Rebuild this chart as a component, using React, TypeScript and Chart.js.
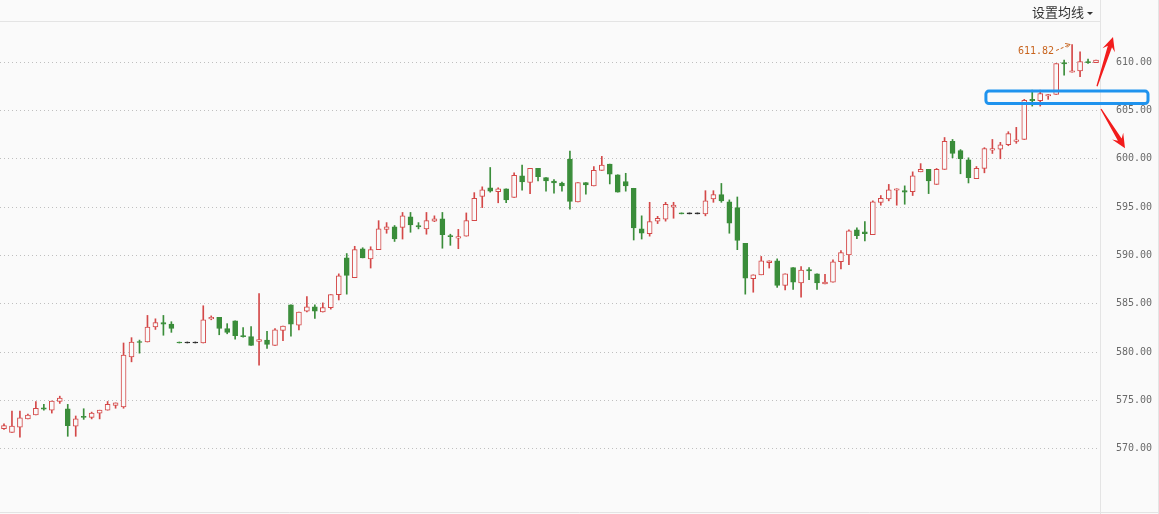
import React, { useEffect, useRef } from "react";
import { Chart, registerables } from "chart.js";

Chart.register(...registerables);

// OHLC values (138 sessions)
const open = [
  572.1, 571.7, 572.25, 573.1, 573.5, 574.25, 574.0, 574.9, 574.15, 572.35,
  573.3, 573.25, 573.7, 574.0, 574.5, 574.35, 579.5, 581.1, 581.05, 582.6,
  583.05, 582.9, 580.95, 580.95, 580.95, 580.95, 583.45, 583.6, 582.45, 583.25,
  581.7, 581.6, 581.1, 581.25, 580.7, 582.25, 584.9, 582.8, 584.25, 584.7,
  584.15, 584.6, 585.95, 589.75, 587.7, 590.7, 589.65, 590.6, 592.7, 592.95,
  592.9, 594.0, 593.1, 592.75, 593.55, 593.8, 592.05, 591.8, 592.0, 593.6,
  596.1, 597.0, 596.6, 596.9, 596.0, 598.25, 597.55, 599.0, 598.05, 597.7,
  597.5, 599.95, 595.55, 597.55, 597.2, 598.8, 599.45, 598.35, 597.65, 596.95,
  592.75, 592.25, 593.55, 593.75, 595.0, 594.3, 594.3, 594.3, 594.3, 595.85,
  596.3, 595.55, 594.95, 591.25, 587.6, 588.0, 589.25, 589.45, 586.9, 588.75,
  587.15, 588.55, 588.1, 587.05, 587.25, 589.35, 590.05, 592.65, 592.45, 592.15,
  595.5, 595.85, 596.75, 596.7, 596.6, 598.65, 598.9, 597.35, 598.9, 601.8,
  600.85, 599.9, 597.95, 599.0, 600.9, 601.0, 601.45, 601.8, 602.0, 606.15,
  606.0, 606.5, 606.65, 609.95, 608.95, 609.1, 610.05, 609.95,
];
const high = [
  572.6, 573.9, 573.9, 573.6, 574.9, 574.6, 574.95, 575.45, 574.6, 573.4,
  574.15, 573.8, 574.0, 574.9, 574.75, 580.95, 581.5, 581.25, 583.8, 583.45,
  583.8, 583.15, 580.95, 580.95, 580.95, 584.8, 583.75, 583.6, 582.95, 583.25,
  582.55, 582.65, 586.05, 582.15, 582.45, 582.7, 584.9, 584.15, 585.75, 584.9,
  585.1, 585.95, 588.1, 590.2, 590.95, 590.8, 590.9, 593.6, 593.4, 593.1,
  594.45, 594.45, 593.4, 594.45, 594.1, 594.45, 592.2, 592.7, 594.4, 596.5,
  597.1, 599.1, 597.0, 596.9, 598.55, 599.35, 599.0, 599.0, 598.05, 597.85,
  597.6, 600.8, 597.55, 597.55, 599.2, 600.25, 599.45, 598.35, 598.5, 596.95,
  594.1, 595.5, 594.05, 595.5, 595.5, 594.3, 594.3, 594.3, 596.7, 596.7,
  597.45, 595.75, 596.05, 591.25, 588.0, 589.9, 589.45, 589.65, 588.1, 588.75,
  588.85, 588.75, 588.1, 588.05, 589.55, 590.5, 592.65, 592.85, 593.5, 595.65,
  596.2, 597.35, 596.9, 597.2, 598.65, 599.5, 598.9, 599.0, 602.2, 602.0,
  600.95, 600.1, 599.2, 601.15, 602.0, 601.7, 602.8, 603.25, 606.15, 607.1,
  607.1, 606.65, 609.85, 610.2, 611.82, 611.05, 610.3, 610.2,
];
const low = [
  572.0, 571.7, 571.2, 573.1, 573.5, 574.0, 573.7, 574.7, 571.3, 571.3,
  573.05, 573.1, 573.1, 574.0, 574.2, 574.2, 579.0, 579.9, 581.05, 582.35,
  581.75, 582.05, 580.95, 580.95, 580.95, 580.95, 583.35, 581.8, 581.9, 581.35,
  581.55, 580.7, 578.65, 580.4, 580.7, 581.2, 581.65, 582.3, 584.15, 583.5,
  584.15, 584.45, 585.4, 586.0, 587.7, 589.75, 588.7, 590.6, 592.3, 591.45,
  591.7, 592.4, 592.75, 592.2, 593.5, 590.75, 591.05, 590.7, 592.0, 593.6,
  594.95, 596.55, 595.45, 595.45, 596.0, 596.75, 596.4, 597.7, 596.65, 596.45,
  596.65, 594.8, 595.55, 596.35, 597.2, 598.8, 597.4, 596.55, 596.65, 591.6,
  591.7, 592.0, 593.3, 593.55, 593.85, 594.3, 594.3, 594.3, 594.1, 595.5,
  595.5, 592.3, 590.6, 586.0, 586.2, 588.0, 588.7, 586.7, 586.45, 586.5,
  585.7, 587.5, 586.5, 587.05, 587.25, 588.6, 589.05, 591.75, 591.5, 592.15,
  595.2, 595.65, 595.2, 595.3, 596.2, 598.65, 596.4, 597.35, 598.9, 600.1,
  598.45, 597.5, 597.95, 598.55, 600.55, 600.0, 601.35, 601.6, 602.0, 605.45,
  605.45, 606.15, 606.65, 608.65, 608.95, 608.5, 609.85, 609.95,
];
const close = [
  572.4, 572.35, 573.2, 573.5, 574.2, 574.1, 574.95, 575.25, 572.4, 573.1,
  573.25, 573.7, 574.0, 574.6, 574.75, 579.7, 581.05, 581.0, 582.6, 583.05,
  582.9, 582.45, 580.95, 580.95, 580.95, 583.35, 583.6, 582.45, 582.05, 581.7,
  581.6, 580.7, 581.3, 580.8, 582.3, 582.7, 582.9, 584.15, 584.7, 584.25,
  584.6, 585.95, 587.9, 587.95, 590.6, 589.75, 590.6, 592.75, 592.95, 591.7,
  594.1, 593.15, 592.95, 593.6, 593.8, 592.15, 591.95, 591.95, 593.6, 595.9,
  596.8, 596.65, 596.9, 595.75, 598.3, 597.6, 599.0, 598.15, 597.7, 597.5,
  597.2, 595.6, 597.55, 597.3, 598.8, 599.35, 598.4, 596.55, 597.2, 592.85,
  592.3, 593.5, 593.85, 595.3, 595.2, 594.3, 594.3, 594.3, 595.65, 596.3,
  595.65, 593.35, 591.55, 587.65, 588.0, 589.45, 589.45, 586.9, 588.1, 587.25,
  588.5, 588.4, 587.15, 587.25, 589.35, 590.3, 592.55, 592.05, 592.25, 595.55,
  595.9, 596.8, 596.9, 596.55, 598.25, 598.9, 597.7, 598.9, 601.8, 600.55,
  600.0, 598.05, 599.0, 601.05, 601.05, 601.45, 602.6, 601.95, 606.05, 606.0,
  606.75, 606.65, 609.85, 609.8, 609.1, 610.05, 609.95, 610.2,
];
const labels = open.map((_, i) => String(i + 1));
const yTicks = [570, 575, 580, 585, 590, 595, 600, 605, 610];
const markedHigh = 611.82;

const UP = "#d44848";
const DOWN = "#3a8d3a";
const FLAT = "#2a2a2a";
const BG = "#fafafa";

const candleColor = open.map((o, i) => {
  const c = close[i];
  if (c > o) return UP;
  if (c < o) return DOWN;
  const prev = i > 0 ? close[i - 1] : c;
  if (c > prev) return UP;
  if (c < prev) return DOWN;
  return FLAT;
});
const bodyFill = candleColor.map((col) => (col === UP ? BG : col));

function drawArrow(ctx: CanvasRenderingContext2D, x1: number, y1: number, x2: number, y2: number, color: string) {
  const dx = x2 - x1, dy = y2 - y1;
  const len = Math.hypot(dx, dy);
  const ux = dx / len, uy = dy / len;
  const nx = -uy, ny = ux;
  const headLen = 14, headW = 6.5, shaftW = 2.2, tailW = 0.6;
  const bx = x2 - ux * headLen, by = y2 - uy * headLen;
  const kx = x2 - ux * (headLen - 4), ky = y2 - uy * (headLen - 4);
  ctx.save();
  ctx.fillStyle = color;
  ctx.beginPath();
  ctx.moveTo(x1 + nx * tailW, y1 + ny * tailW);
  ctx.lineTo(kx + nx * shaftW, ky + ny * shaftW);
  ctx.lineTo(bx + nx * headW, by + ny * headW);
  ctx.lineTo(x2, y2);
  ctx.lineTo(bx - nx * headW, by - ny * headW);
  ctx.lineTo(kx - nx * shaftW, ky - ny * shaftW);
  ctx.lineTo(x1 - nx * tailW, y1 - ny * tailW);
  ctx.closePath();
  ctx.fill();
  ctx.restore();
}

const decorPlugin = {
  id: "decor",
  beforeDraw(chart: any) {
    const { ctx, width, height } = chart;
    ctx.save();
    ctx.fillStyle = BG;
    ctx.fillRect(0, 0, width, height);
    ctx.restore();
  },
  afterDraw(chart: any) {
    const { ctx, chartArea, width, height } = chart;
    const xs = chart.scales.x;
    const ys = chart.scales.y;
    const R = chartArea.right;
    ctx.save();
    ctx.strokeStyle = "#e4e4e4";
    ctx.lineWidth = 1;
    ctx.beginPath();
    ctx.moveTo(0, Math.round(chartArea.top) + 0.5);
    ctx.lineTo(R, Math.round(chartArea.top) + 0.5);
    ctx.moveTo(0, Math.round(chartArea.bottom) + 0.5);
    ctx.lineTo(width, Math.round(chartArea.bottom) + 0.5);
    ctx.moveTo(Math.round(R) + 0.5, 0);
    ctx.lineTo(Math.round(R) + 0.5, height);
    ctx.moveTo(width - 0.5, 0);
    ctx.lineTo(width - 0.5, height);
    ctx.stroke();
    ctx.restore();

    // highest price marker
    const hi = high.indexOf(markedHigh);
    const hx = xs.getPixelForValue(hi);
    const hy = ys.getPixelForValue(markedHigh);
    ctx.save();
    ctx.strokeStyle = "#c8641e";
    ctx.fillStyle = "#c8641e";
    ctx.lineWidth = 1;
    ctx.setLineDash([3, 2]);
    ctx.beginPath();
    ctx.moveTo(hx - 16, hy + 6);
    ctx.lineTo(hx - 3, hy + 0.5);
    ctx.stroke();
    ctx.setLineDash([]);
    ctx.beginPath();
    ctx.moveTo(hx - 2, hy);
    ctx.lineTo(hx - 7, hy - 1);
    ctx.moveTo(hx - 2, hy);
    ctx.lineTo(hx - 5, hy + 3);
    ctx.stroke();
    ctx.font = "10px 'DejaVu Sans Mono'";
    ctx.textAlign = "right";
    ctx.textBaseline = "middle";
    ctx.fillText(markedHigh.toFixed(2), hx - 18, hy + 6.5);
    ctx.restore();

    // blue highlight box
    const bTop = ys.getPixelForValue(607.0);
    const bBot = ys.getPixelForValue(605.72);
    const bLeft = xs.getPixelForValue(123) + 1.5;
    const bRight = R + 48;
    ctx.save();
    ctx.strokeStyle = "#1f93ee";
    ctx.lineWidth = 3;
    ctx.beginPath();
    if ((ctx as any).roundRect) {
      (ctx as any).roundRect(bLeft, bTop, bRight - bLeft, bBot - bTop, 3);
    } else {
      ctx.rect(bLeft, bTop, bRight - bLeft, bBot - bTop);
    }
    ctx.stroke();
    ctx.restore();

    // red arrows
    drawArrow(ctx, R - 3, ys.getPixelForValue(607.5), R + 13, ys.getPixelForValue(612.6), "#f21c1c");
    drawArrow(ctx, R + 1, ys.getPixelForValue(605.15), R + 25, ys.getPixelForValue(601.1), "#f21c1c");
  },
};

export default function App() {
  const ref = useRef<HTMLCanvasElement | null>(null);
  useEffect(() => {
    document.body.style.margin = "0";
    if (!ref.current) return;
    const chart = new Chart(ref.current, {
      type: "bar",
      data: {
        labels,
        datasets: [
          {
            label: "body",
            data: open.map((o, i) => [o, close[i]]) as any,
            backgroundColor: bodyFill,
            borderColor: candleColor,
            borderWidth: 1,
            borderSkipped: false,
            barThickness: 5,
            minBarLength: 1,
            grouped: false,
            order: 0,
          } as any,
          {
            label: "wick",
            data: low.map((l, i) => [l, high[i]]) as any,
            backgroundColor: candleColor,
            borderWidth: 0,
            barThickness: 1,
            minBarLength: 1,
            grouped: false,
            order: 1,
          } as any,
        ],
      },
      options: {
        responsive: false,
        animation: false,
        devicePixelRatio: 1,
        layout: { padding: { top: 21, bottom: 2, left: 0, right: 0 } },
        plugins: { legend: { display: false }, tooltip: { enabled: false } },
        scales: {
          x: { display: false, offset: true, grid: { display: false } },
          y: {
            position: "right",
            min: 563.47,
            max: 614.25,
            afterBuildTicks: (s: any) => {
              s.ticks = yTicks.map((v) => ({ value: v }));
            },
            afterFit: (s: any) => {
              s.width = 59;
              s.paddingTop = 0;
              s.paddingBottom = 0;
            },
            grid: { color: "#bfbfbf", drawTicks: false, lineWidth: 1, borderDash: [1, 3] },
            border: { display: false, dash: [1, 3] },
            ticks: {
              padding: 16,
              color: "#6a6a6a",
              font: { family: "'DejaVu Sans Mono'", size: 10 },
              callback: (v: any) => Number(v).toFixed(2),
            },
          },
        },
      } as any,
      plugins: [decorPlugin],
    });
    return () => chart.destroy();
  }, []);

  return (
    <div style={{ position: "absolute", left: 0, top: 0, width: 1159, height: 514, background: BG, overflow: "hidden" }}>
      <canvas ref={ref} width={1159} height={514} style={{ width: 1159, height: 514, display: "block" }} />
      <div
        style={{
          position: "absolute",
          left: 1032,
          top: 3,
          fontFamily: "'Noto Sans CJK SC', sans-serif",
          fontSize: 13,
          lineHeight: "17px",
          color: "#333",
          whiteSpace: "nowrap",
        }}
      >
        设置均线
        <span
          style={{
            display: "inline-block",
            marginLeft: 3,
            verticalAlign: "middle",
            width: 0,
            height: 0,
            borderLeft: "3px solid transparent",
            borderRight: "3px solid transparent",
            borderTop: "3px solid #333",
          }}
        />
      </div>
    </div>
  );
}
